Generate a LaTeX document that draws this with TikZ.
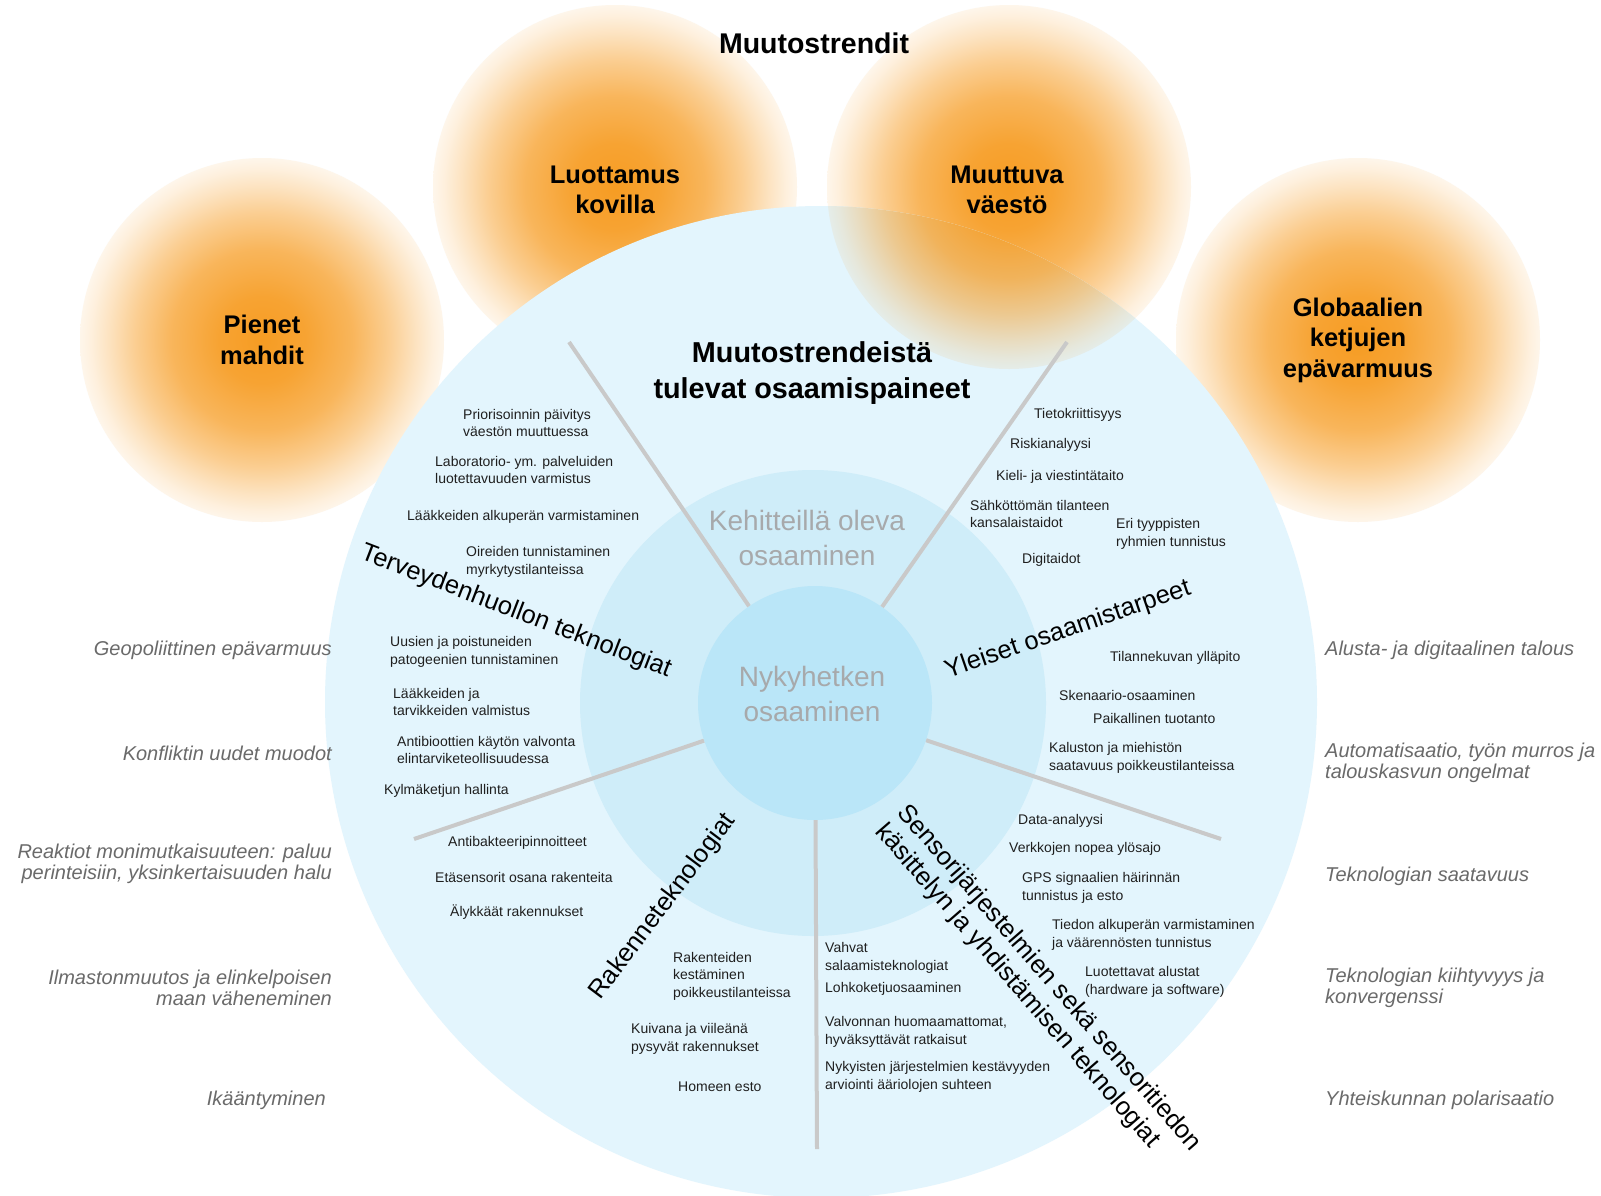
\documentclass[tikz,border=0pt]{standalone}
\usepackage{fontspec}
\setmainfont{Liberation Sans}
\definecolor{orangeC}{HTML}{F6991C}
\definecolor{blueA}{HTML}{E3F5FD}
\definecolor{blueB}{HTML}{CFEDF9}
\definecolor{blueC}{HTML}{BAE6F8}
\definecolor{spokeC}{HTML}{C9C9C9}
\definecolor{trendC}{HTML}{6A6A6A}
\definecolor{ghostC}{HTML}{A7A9AB}
% TikZ fits the central 50bp square of a shading to the path, so the
% circle's rim lies at 25bp
\pgfdeclareradialshading{glowwhite}{\pgfpointorigin}{%
  color(0bp)=(orangeC!97!white);
  color(6bp)=(orangeC!90!white);
  color(12.5bp)=(orangeC!72!white);
  color(17.5bp)=(orangeC!48!white);
  color(21bp)=(orangeC!28!white);
  color(23.5bp)=(orangeC!15!white);
  color(25bp)=(orangeC!9!white);
  color(50bp)=(orangeC!9!white)}
\pgfdeclareradialshading{glowblue}{\pgfpointorigin}{%
  color(0bp)=(orangeC!97!blueA);
  color(6bp)=(orangeC!90!blueA);
  color(12.5bp)=(orangeC!72!blueA);
  color(17.5bp)=(orangeC!48!blueA);
  color(21bp)=(orangeC!28!blueA);
  color(23.5bp)=(orangeC!15!blueA);
  color(25bp)=(orangeC!9!blueA);
  color(50bp)=(orangeC!9!blueA)}
\begin{document}
\begin{tikzpicture}[x=1pt,y=-1pt,
  glow/.style={shading=glowwhite},
  trendtitle/.style={align=center, inner sep=0, font=\fontsize{25.5}{30.6}\selectfont\bfseries},
  item/.style={anchor=west, align=left, inner sep=0, text=black!88, font=\fontsize{14}{17.5}\selectfont},
  cat/.style={inner sep=0, font=\fontsize{25.5}{29}\selectfont},
  ghost/.style={align=center, inner sep=0, text=ghostC, font=\fontsize{28}{34.5}\selectfont},
  trendL/.style={anchor=east, align=right, inner sep=0, text=trendC, font=\fontsize{20}{21}\selectfont\itshape},
  trendR/.style={anchor=west, align=left, inner sep=0, text=trendC, font=\fontsize{20}{21}\selectfont\itshape},
  spoke/.style={draw=spokeC, line width=4pt}]
\fill[white] (0,0) rectangle (1601,1195);
\useasboundingbox (0,0) rectangle (1601,1195);

% orange trend circles (beneath the blue disc)
\coordinate (pienetC) at (262,340);
\coordinate (luottC) at (615,187);
\coordinate (globC) at (1358,340);
\coordinate (muutC) at (1009,187);
\shade[glow] (pienetC) circle[radius=182pt];
\shade[glow] (luottC) circle[radius=182pt];
\shade[glow] (globC) circle[radius=182pt];
\shade[glow] (muutC) circle[radius=182pt];

% blue discs
\node[circle, fill=blueA, minimum size=992pt, inner sep=0] (outer) at (821,702) {};
% the Muuttuva circle lies over the blue disc
\begin{scope}
  \clip (outer.center) circle[radius=496pt];
  \shade[shading=glowblue] (muutC) circle[radius=182pt];
\end{scope}
\node[circle, fill=blueB, minimum size=466pt, inner sep=0] (ring) at (813,703) {};
\node[circle, fill=blueC, minimum size=234pt, inner sep=0] (core) at (815,703) {};

% spokes
\coordinate (s1) at (569,342);
\coordinate (s2) at (1067,342);
\coordinate (s3) at (1221,839);
\coordinate (s4) at (817,1149);
\coordinate (s5) at (414,839);
\draw[spoke] (core) -- (s1);
\draw[spoke] (core) -- (s2);
\draw[spoke] (core) -- (s3);
\draw[spoke] (core) -- (s4);
\draw[spoke] (core) -- (s5);

% titles
\node[inner sep=0, font=\fontsize{28.5}{33}\selectfont\bfseries] (title) at (814,43) {Muutostrendit};
\node[trendtitle] (pienet) at (pienetC) {Pienet\\mahdit};
\node[trendtitle] (luott) at (615,190) {Luottamus\\kovilla};
\node[trendtitle] (muut) at (1007,190) {Muuttuva\\väestö};
\node[trendtitle] (glob) at (globC) {Globaalien\\ketjujen\\epävarmuus};
\node[align=center, inner sep=0, font=\fontsize{28.8}{35.7}\selectfont\bfseries] (paineet) at (812,373) {Muutostrendeistä\\tulevat osaamispaineet};
\node[ghost] (kehit) at (807,538) {Kehitteillä oleva\\osaaminen};
\node[ghost] (nyky) at (812,694) {Nykyhetken\\osaaminen};

% category labels
\node[cat, rotate=-21] (terv) at (516,612) {Terveydenhuollon teknologiat};
\node[cat, rotate=19] (yleiset) at (1068,630) {Yleiset osaamistarpeet};
\node[cat, rotate=53] (rakenne) at (663,907) {Rakenneteknologiat};
\node[cat, rotate=-49, align=left] (sensori) at (1038,988) {Sensorijärjestelmien sekä sensoritiedon\\käsittelyn ja yhdistämisen teknologiat};

% upper-left items
\node[item] (i1) at (463,423) {Priorisoinnin päivitys\\väestön muuttuessa};
\node[item] (i2) at (435,470) {Laboratorio- ym. palveluiden\\luotettavuuden varmistus};
\node[item] (i3) at (407,517) {Lääkkeiden alkuperän varmistaminen};
\node[item] (i4) at (466,562) {Oireiden tunnistaminen\\myrkytystilanteissa};
% upper-right items
\node[item] (j1) at (1034,415) {Tietokriittisyys};
\node[item] (j2) at (1010,445) {Riskianalyysi};
\node[item] (j3) at (996,477) {Kieli- ja viestintätaito};
\node[item] (j4) at (970,514) {Sähköttömän tilanteen\\kansalaistaidot};
\node[item] (j5) at (1116,534) {Eri tyyppisten\\ryhmien tunnistus};
\node[item] (j6) at (1022,560) {Digitaidot};
% left-middle items
\node[item] (k1) at (390,652) {Uusien ja poistuneiden\\patogeenien tunnistaminen};
\node[item] (k2) at (393,702) {Lääkkeiden ja\\tarvikkeiden valmistus};
\node[item] (k3) at (397,750) {Antibioottien käytön valvonta\\elintarviketeollisuudessa};
\node[item] (k4) at (384,791) {Kylmäketjun hallinta};
% right-middle items
\node[item] (l1) at (1110,658) {Tilannekuvan ylläpito};
\node[item] (l2) at (1059,695) {Skenaario-osaaminen};
\node[item] (l3) at (1093,718) {Paikallinen tuotanto};
\node[item] (l4) at (1049,758) {Kaluston ja miehistön\\saatavuus poikkeustilanteissa};
% lower-left items
\node[item] (m1) at (448,843) {Antibakteeripinnoitteet};
\node[item] (m2) at (435,877) {Etäsensorit osana rakenteita};
\node[item] (m3) at (450,912) {Älykkäät rakennukset};
\node[item] (m4) at (673,976) {Rakenteiden\\kestäminen\\poikkeustilanteissa};
\node[item] (m5) at (631,1039) {Kuivana ja viileänä\\pysyvät rakennukset};
\node[item] (m6) at (678,1087) {Homeen esto};
% lower-right items
\node[item] (n1) at (1018,821) {Data-analyysi};
\node[item] (n2) at (1009,849) {Verkkojen nopea ylösajo};
\node[item] (n3) at (1022,888) {GPS signaalien häirinnän\\tunnistus ja esto};
\node[item] (n4) at (1052,935) {Tiedon alkuperän varmistaminen\\ja väärennösten tunnistus};
\node[item] (n5) at (1085,982) {Luotettavat alustat\\(hardware ja software)};
\node[item] (n6) at (825,958) {Vahvat\\salaamisteknologiat};
\node[item] (n7) at (825,989) {Lohkoketjuosaaminen};
\node[item] (n8) at (825,1032) {Valvonnan huomaamattomat,\\hyväksyttävät ratkaisut};
\node[item] (n9) at (825,1077) {Nykyisten järjestelmien kestävyyden\\arviointi ääriolojen suhteen};

% trend labels, left
\node[trendL] (t1) at (332,650) {Geopoliittinen epävarmuus};
\node[trendL] (t2) at (332,753) {Konfliktin uudet muodot};
\node[trendL] (t3) at (332,864) {Reaktiot monimutkaisuuteen: paluu\\perinteisiin, yksinkertaisuuden halu};
\node[trendL] (t4) at (332,988) {Ilmastonmuutos ja elinkelpoisen\\maan väheneminen};
\node[trendL] (t5) at (326,1100) {Ikääntyminen};
% trend labels, right
\node[trendR] (r1) at (1325,650) {Alusta- ja digitaalinen talous};
\node[trendR] (r2) at (1325,763) {Automatisaatio, työn murros ja\\talouskasvun ongelmat};
\node[trendR] (r3) at (1325,876) {Teknologian saatavuus};
\node[trendR] (r4) at (1325,988) {Teknologian kiihtyvyys ja\\konvergenssi};
\node[trendR] (r5) at (1325,1100) {Yhteiskunnan polarisaatio};
\end{tikzpicture}
\end{document}
